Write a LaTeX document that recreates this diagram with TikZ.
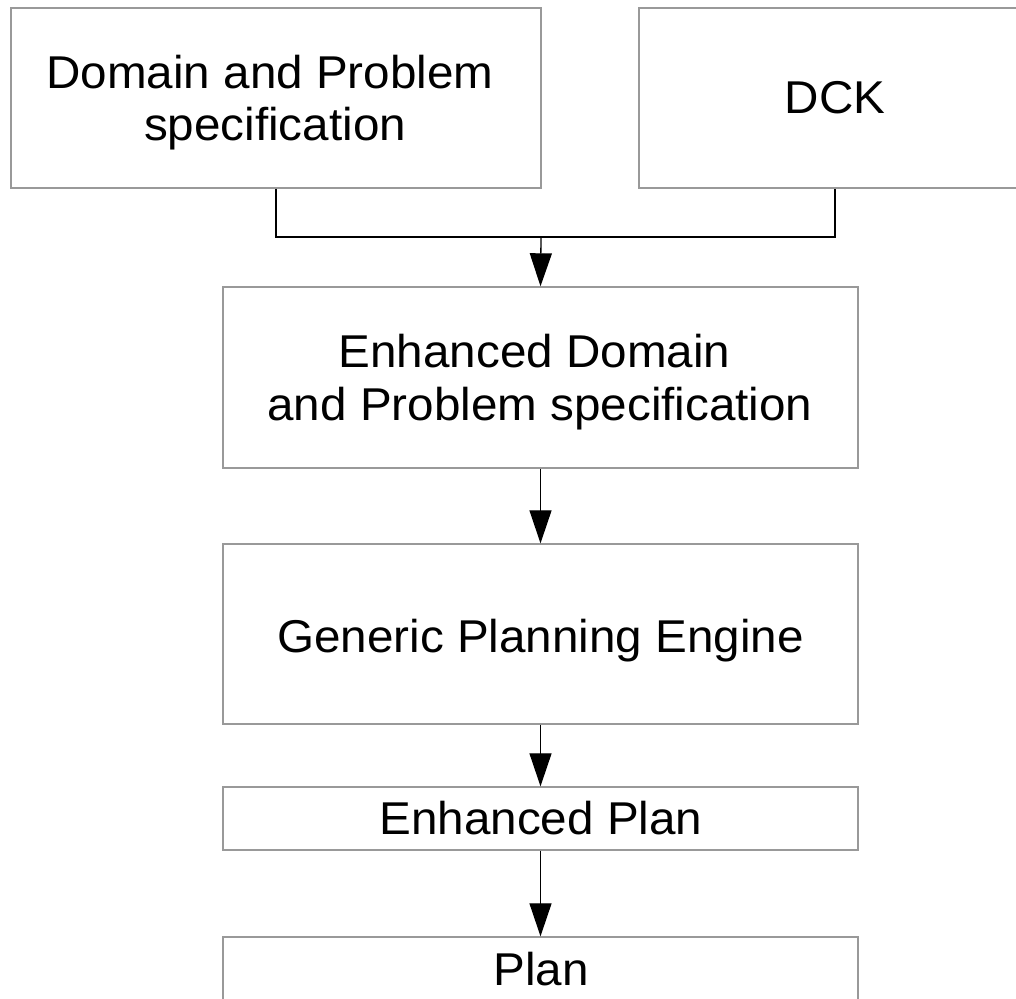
\documentclass[tikz,border=0pt]{standalone}
\usepackage{fontspec}
\setmainfont[FakeStretch=1.035]{Liberation Sans}
\usetikzlibrary{arrows.meta,positioning}
\begin{document}
\begin{tikzpicture}[x=1pt,y=-1pt,
  box/.style={draw=black!40,line width=1.4pt,rectangle,inner sep=0pt},
  txt/.style={anchor=base,inner sep=0pt,font=\fontsize{46}{54}\selectfont},
  conn/.style={draw=black,line width=1.3pt},
  arr/.style={conn,-{Triangle[length=33pt,width=22pt]}},
]
\clip (0,0) rectangle (1016,998);
\useasboundingbox (0,0) rectangle (1016,998);
\node[box,minimum width=530pt,minimum height=180pt] (b1) at (276,98) {};
\node[box,minimum width=392pt,minimum height=180pt] (dck) at (835,98) {};
\node[box,minimum width=635pt,minimum height=181pt] (b3) at (540.5,377.5) {};
\node[box,minimum width=635pt,minimum height=180pt] (b4) at (540.5,634) {};
\node[box,minimum width=635pt,minimum height=63pt] (b5) at (540.5,818.5) {};
\node[box,minimum width=635pt,minimum height=80pt] (b6) at (540.5,977) {};
\node[txt] (t1a) at (270,88) {Domain and Problem};
\node[txt] (t1b) at (275,140) {specification};
\node[txt] (t2) at (835,113) {DCK};
\node[txt] (t3a) at (534.5,367) {Enhanced Domain};
\node[txt] (t3b) at (540,420) {and Problem specification};
\node[txt] (t4) at (540.5,652) {Generic Planning Engine};
\node[txt] (t5) at (541,834) {Enhanced Plan};
\node[txt] (t6) at (541,985) {Plan};
\coordinate (j) at (541,237);
\draw[conn] (b1.south) |- (j) -| (dck.south);
\draw[arr] (j) -- (b3.north);
\draw[arr] (b3.south) -- (b4.north);
\draw[arr] (b4.south) -- (b5.north);
\draw[arr] (b5.south) -- (b6.north);
\end{tikzpicture}
\end{document}
